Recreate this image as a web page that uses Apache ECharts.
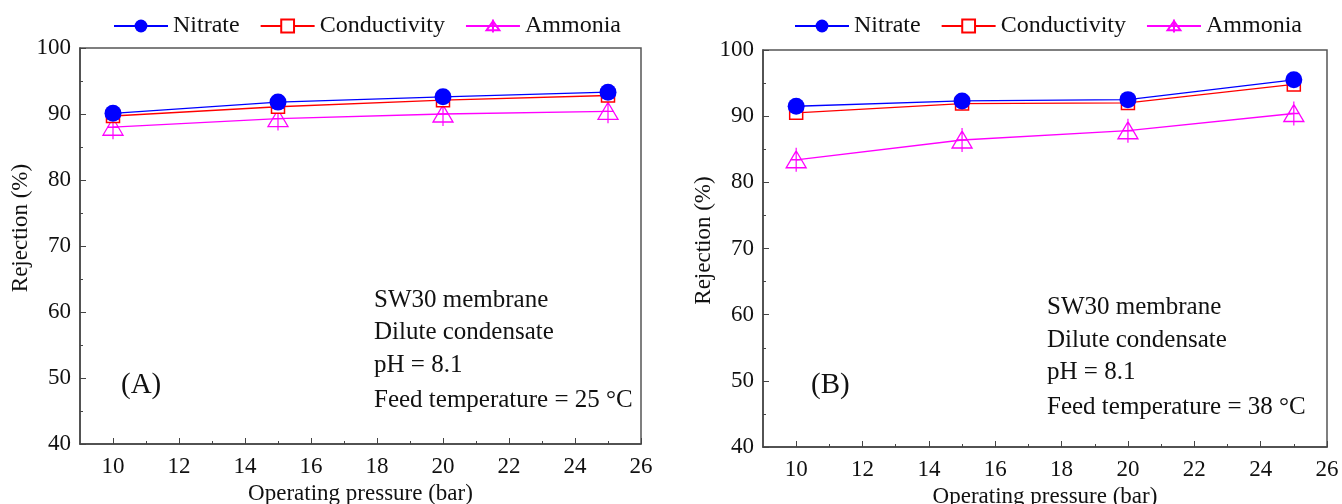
<!DOCTYPE html>
<html>
<head>
<meta charset="utf-8">
<script src="https://cdn.jsdelivr.net/npm/echarts@6/dist/echarts.min.js"></script>
<style>
  html, body { margin: 0; background: #fff; }
  #main { width: 1342px; height: 504px; }
</style>
</head>
<body>
<div id="main"></div>
<script>
// operating pressure (bar) and rejection (%)
const pressure = [10, 15, 20, 25];
const nitrateA = [90.1, 91.8, 92.6, 93.3];
const conductivityA = [89.7, 91.1, 92.1, 92.8];
const ammoniaA = [88.0, 89.3, 90.0, 90.4];
const nitrateB = [91.5, 92.3, 92.5, 95.5];
const conductivityB = [90.5, 91.9, 92.0, 94.8];
const ammoniaB = [83.4, 86.4, 87.8, 90.4];

const xTicks = [10, 12, 14, 16, 18, 20, 22, 24, 26];
const xMinorTicks = [11, 13, 15, 17, 19, 21, 23, 25];
const seriesNames = ['Nitrate', 'Conductivity', 'Ammonia'];
const notesA = ['SW30 membrane', 'Dilute condensate', 'pH = 8.1', 'Feed temperature = 25 \u00B0C'];
const notesB = ['SW30 membrane', 'Dilute condensate', 'pH = 8.1', 'Feed temperature = 38 \u00B0C'];

const FONT = 'Liberation Serif';
const TXT = '#111';
const AXIS = '#444';
const triangleCross = 'path://M10,3L20,20L0,20Z M10,0L10,24 M4,12L16,12';

const grids = [
  { left: 80, top: 48, width: 561, height: 396 },
  { left: 763, top: 50, width: 564, height: 397 }
];
const yNameGaps = [43, 40];
const yNameShift = [36, 16]; // the y titles sit a little above the middle

function pairs(vals) {
  return pressure.map((p, i) => [p, vals[i]]);
}

const xAxis = [];
const yAxis = [];
grids.forEach((g, i) => {
  xAxis.push({
    type: 'value', gridIndex: i, min: 9, max: 26,
    name: 'Operating pressure (bar)', nameLocation: 'middle', nameGap: 36,
    nameTextStyle: { fontFamily: FONT, fontSize: 23, color: TXT },
    axisLine: { lineStyle: { color: AXIS, width: 1.5 } },
    axisTick: { inside: true, length: 6, customValues: xTicks, lineStyle: { color: AXIS } },
    axisLabel: { customValues: xTicks, fontFamily: FONT, fontSize: 23, color: TXT, margin: 11 },
    splitLine: { show: false }
  });
  xAxis.push({
    type: 'value', gridIndex: i, min: 9, max: 26, position: 'bottom',
    axisLine: { show: false },
    axisTick: { inside: true, length: 3, customValues: xMinorTicks, lineStyle: { color: AXIS } },
    axisLabel: { show: false },
    splitLine: { show: false }
  });
  yAxis.push({
    type: 'value', gridIndex: i, min: 40, max: 100, interval: 10,
    name: 'Rejection (%)', nameLocation: 'middle', nameGap: yNameGaps[i],
    nameTextStyle: { fontFamily: FONT, fontSize: 23, color: TXT, padding: [0, 0, 0, yNameShift[i]] },
    axisLine: { show: true, lineStyle: { color: AXIS, width: 1.5 } },
    axisTick: { show: true, inside: true, length: 6, lineStyle: { color: AXIS } },
    minorTick: { show: true, splitNumber: 2, length: 3, lineStyle: { color: AXIS } },
    axisLabel: { fontFamily: FONT, fontSize: 23, color: TXT, margin: 9 },
    splitLine: { show: false }
  });
});

function panelSeries(i, nit, con, amm) {
  return [
    {
      name: 'Nitrate', type: 'line', xAxisIndex: i * 2, yAxisIndex: i, z: 5,
      data: pairs(nit), symbol: 'circle', symbolSize: 17,
      itemStyle: { color: '#0000ff' },
      lineStyle: { color: '#0000ff', width: 1.3 }
    },
    {
      name: 'Conductivity', type: 'line', xAxisIndex: i * 2, yAxisIndex: i, z: 4,
      data: pairs(con), symbol: 'rect', symbolSize: 13,
      itemStyle: { color: '#fff', borderColor: '#ff0000', borderWidth: 1.5 },
      lineStyle: { color: '#ff0000', width: 1.3 }
    },
    {
      name: 'Ammonia', type: 'line', xAxisIndex: i * 2, yAxisIndex: i, z: 3,
      data: pairs(amm), symbol: triangleCross, symbolSize: [20, 24],
      itemStyle: { color: 'rgba(255,255,255,0)', borderColor: '#ff00ff', borderWidth: 1.3 },
      lineStyle: { color: '#ff00ff', width: 1.3 }
    }
  ];
}

function notes(x, ys, lines, label, labelX) {
  const out = lines.map((t, k) => ({
    type: 'text', x: x, y: ys[k],
    style: { text: t, fill: TXT, font: '25px "' + FONT + '"', verticalAlign: 'middle' }
  }));
  out.push({
    type: 'text', x: labelX, y: 385,
    style: { text: label, fill: TXT, font: '29px "' + FONT + '"', verticalAlign: 'middle' }
  });
  return out;
}

const legendBase = {
  data: seriesNames, top: 9, itemWidth: 54, itemHeight: 16, itemGap: 20,
  textStyle: { fontFamily: FONT, fontSize: 24, color: TXT }
};

const option = {
  animation: false,
  backgroundColor: '#fff',
  grid: grids.map(g => Object.assign({
    show: true, borderColor: '#555', borderWidth: 1.5, backgroundColor: 'transparent',
    containLabel: false, outerBoundsMode: 'none'
  }, g)),
  legend: [
    Object.assign({ left: 108 }, legendBase),
    Object.assign({ left: 789 }, legendBase)
  ],
  xAxis: xAxis,
  yAxis: yAxis,
  series: panelSeries(0, nitrateA, conductivityA, ammoniaA).concat(panelSeries(1, nitrateB, conductivityB, ammoniaB)),
  graphic: notes(374, [300, 332, 365, 400], notesA, '(A)', 121)
    .concat(notes(1047, [307, 340, 372, 407], notesB, '(B)', 811))
};

const chart = echarts.init(document.getElementById('main'));
chart.setOption(option);
</script>
</body>
</html>
